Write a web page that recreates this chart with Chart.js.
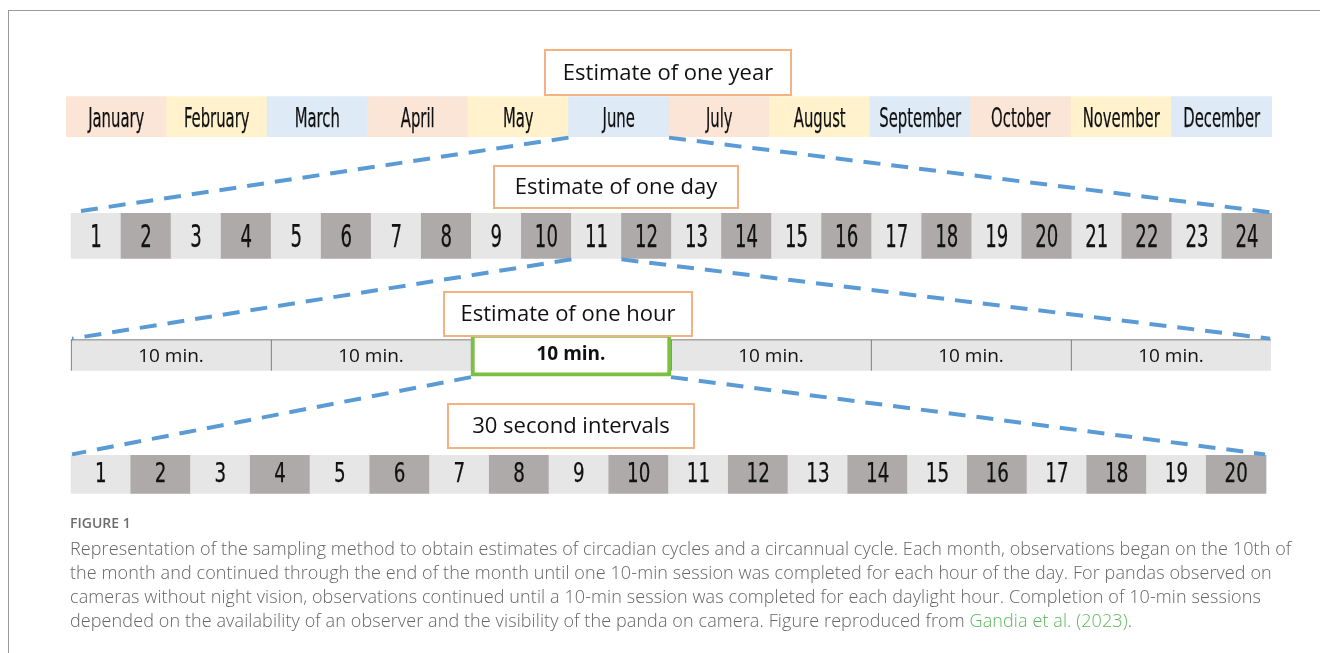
<!DOCTYPE html>
<html>
<head>
<meta charset="utf-8">
<title>Sampling method</title>
<script src="https://cdn.jsdelivr.net/npm/chart.js@4/dist/chart.umd.min.js"></script>
<style>
  html, body { margin: 0; padding: 0; background: #fff; }
  body { width: 1320px; height: 653px; position: relative; overflow: hidden; }
  #frame { position: absolute; left: 8px; top: 10px; width: 1330px; height: 660px;
           border-top: 1px solid #9a9a9a; border-left: 1px solid #9a9a9a; }
  #chart { position: absolute; left: 0; top: 0; }
  .fig { position: absolute; left: 70px; top: 513px; font-family: "Open Sans", sans-serif;
         font-size: 14px; line-height: 20px; font-weight: 600; color: #6d6d6d; white-space: nowrap; }
  .txt { position: absolute; left: 70px; top: 536px; font-family: "Open Sans", sans-serif;
         font-size: 18px; line-height: 24px; font-weight: 300; letter-spacing: 0.1px;
         color: #666; white-space: nowrap; }
  .ref { color: #5cb85c; }
</style>
</head>
<body>
<div id="frame"></div>
<canvas id="chart" width="1320" height="653"></canvas>
<div class="fig">FIGURE 1</div>
<div class="txt">Representation of the sampling method to obtain estimates of circadian cycles and a circannual cycle. Each month, observations began on the 10th of<br>the month and continued through the end of the month until one 10-min session was completed for each hour of the day. For pandas observed on<br>cameras without night vision, observations continued until a 10-min session was completed for each daylight hour. Completion of 10-min sessions<br>depended on the availability of an observer and the visibility of the panda on camera. Figure reproduced from <span class="ref">Gandia et al. (2023)</span>.</div>
<script>
// --- data ---
const rows = ['year', 'day', 'hour', 'interval']
const months = ['January', 'February', 'March', 'April', 'May', 'June',
  'July', 'August', 'September', 'October', 'November', 'December']
const hours = ['1', '2', '3', '4', '5', '6', '7', '8', '9', '10', '11', '12',
  '13', '14', '15', '16', '17', '18', '19', '20', '21', '22', '23', '24']
const sessions = ['10 min.', '10 min.', '10 min.', '10 min.', '10 min.', '10 min.']
const intervals = ['1', '2', '3', '4', '5', '6', '7', '8', '9', '10',
  '11', '12', '13', '14', '15', '16', '17', '18', '19', '20']
const selectedMonth = 'June'
const selectedHour = '11'
const selectedSession = 2   // third 10-min session of the hour
const titles = ['Estimate of one year', 'Estimate of one day', 'Estimate of one hour', '30 second intervals']

// --- styles ---
const monthColors = ['#fbe5d6', '#fff2cc', '#deebf7']
const lightCell = '#e7e6e6'
const darkCell = '#aeaaaa'
const narrowFont = '"Liberation Sans Narrow", "DejaVu Sans Condensed", "Noto Sans", sans-serif'
const plainFont = '"Open Sans", "Noto Sans", sans-serif'
// title boxes: centre x, top, width, height (pixels)
const titleBoxes = [
  { cx: 668, top: 50, w: 246, h: 45 },
  { cx: 616, top: 166, w: 244, h: 42 },
  { cx: 568, top: 292, w: 248, h: 44 },
  { cx: 571, top: 404, w: 246, h: 44 }
]

function segments(list, row) {
  return list.map((_, i) => ({ x: [i, i + 1], y: row }))
}
function stripes(list) {
  return list.map((_, i) => i % 2 ? darkCell : lightCell)
}

// writes the label of every cell in its centre, squeezed like the narrow original
const cellText = {
  id: 'cellText',
  afterDatasetDraw(chart, args) {
    const ds = chart.data.datasets[args.index]
    if (!ds.texts) return
    const ctx = chart.ctx
    args.meta.data.forEach((bar, j) => {
      const t = ds.texts[j]
      if (!t) return
      const p = bar.getProps(['x', 'y', 'base'], true)
      ctx.save()
      ctx.font = ds.textFont
      ctx.fillStyle = '#111'
      ctx.strokeStyle = '#111'
      ctx.textAlign = 'center'
      ctx.textBaseline = 'middle'
      ctx.translate((p.x + p.base) / 2, p.y + (ds.textDy || 0))
      ctx.scale(ds.squash || 1, 1)
      ctx.fillText(t, 0, 0)
      // squeezing thins the strokes, so give narrow text a touch of weight back
      if (ds.squash) {
        ctx.lineWidth = 0.25
        ctx.strokeText(t, 0, 0)
      }
      ctx.restore()
    })
  }
}

function barBox(bar) {
  const p = bar.getProps(['x', 'y', 'base', 'height'], true)
  return { left: Math.min(p.x, p.base), right: Math.max(p.x, p.base),
    top: p.y - p.height / 2, bottom: p.y + p.height / 2 }
}

// dashed "zoom" lines from the selected cell down to the next row, then the title boxes
const zoomLines = {
  id: 'zoomLines',
  afterDatasetsDraw(chart) {
    const ctx = chart.ctx
    const links = [
      [0, months.indexOf(selectedMonth), 1],
      [1, hours.indexOf(selectedHour), 2],
      [4, 0, 3]
    ]
    ctx.save()
    ctx.strokeStyle = '#5b9bd5'
    ctx.lineWidth = 4
    ctx.setLineDash([17, 11])
    links.forEach(([from, idx, to]) => {
      const src = barBox(chart.getDatasetMeta(from).data[idx])
      const dst = chart.getDatasetMeta(to).data
      const first = barBox(dst[0])
      const last = barBox(dst[dst.length - 1])
      ctx.beginPath()
      ctx.moveTo(src.left, src.bottom + 1)
      ctx.lineTo(first.left + 1, first.top - 1)
      ctx.stroke()
      ctx.beginPath()
      ctx.moveTo(src.right, src.bottom + 1)
      ctx.lineTo(last.right - 1, last.top - 1)
      ctx.stroke()
    })
    ctx.restore()

    ctx.save()
    titleBoxes.forEach((b, i) => {
      const x = b.cx - b.w / 2
      ctx.fillStyle = '#fff'
      ctx.fillRect(x, b.top, b.w, b.h)
      ctx.strokeStyle = '#f4b183'
      ctx.lineWidth = 2
      ctx.strokeRect(x, b.top, b.w, b.h)
      ctx.fillStyle = '#111'
      ctx.font = '22px ' + plainFont
      ctx.textAlign = 'center'
      ctx.textBaseline = 'middle'
      ctx.fillText(titles[i], b.cx, b.top + b.h / 2 + 1)
    })
    ctx.restore()
  }
}

const datasets = [
  {
    data: segments(months, rows[0]), xAxisID: 'xMonth',
    backgroundColor: months.map((_, i) => monthColors[i % 3]),
    barThickness: 40, texts: months, textFont: '27px ' + narrowFont, squash: 0.61, textDy: 3
  },
  {
    data: segments(hours, rows[1]), xAxisID: 'xHour',
    backgroundColor: stripes(hours),
    barThickness: 45, texts: hours, textFont: '32px ' + narrowFont, squash: 0.63, textDy: 3
  },
  {
    data: segments(sessions, rows[2]), xAxisID: 'xSession',
    backgroundColor: lightCell, borderColor: '#626262',
    borderWidth: { top: 1, left: 1, right: 0, bottom: 0 },
    barThickness: 31, texts: sessions, textFont: '19px ' + plainFont, textDy: 1
  },
  {
    data: segments(intervals, rows[3]), xAxisID: 'xInterval',
    backgroundColor: stripes(intervals),
    barThickness: 38, texts: intervals, textFont: '26px ' + narrowFont, squash: 0.78, textDy: 1
  },
  {
    data: [{ x: [selectedSession, selectedSession + 1], y: rows[2] }], xAxisID: 'xSession',
    backgroundColor: '#fff', borderColor: '#7ac143', borderWidth: 4,
    barThickness: 42, order: -1,
    texts: [sessions[selectedSession]], textFont: 'bold 19px ' + plainFont, textDy: -1
  }
]
datasets.forEach(ds => { ds.grouped = false; ds.borderSkipped = false })

new Chart(document.getElementById('chart'), {
  type: 'bar',
  data: { labels: rows, datasets },
  options: {
    indexAxis: 'y',
    responsive: false,
    animation: false,
    layout: { padding: { left: 66, right: 48, top: 57, bottom: 119 } },
    plugins: { legend: { display: false }, tooltip: { enabled: false } },
    scales: {
      y: { type: 'category', display: false },
      xMonth: { type: 'linear', axis: 'x', display: false, min: 0, max: 12 },
      xHour: { type: 'linear', axis: 'x', display: false, min: -0.1, max: 24 },
      xSession: { type: 'linear', axis: 'x', display: false, min: -0.025, max: 6.005 },
      xInterval: { type: 'linear', axis: 'x', display: false, min: -0.084, max: 20.1 }
    }
  },
  plugins: [cellText, zoomLines]
})
</script>
</body>
</html>
